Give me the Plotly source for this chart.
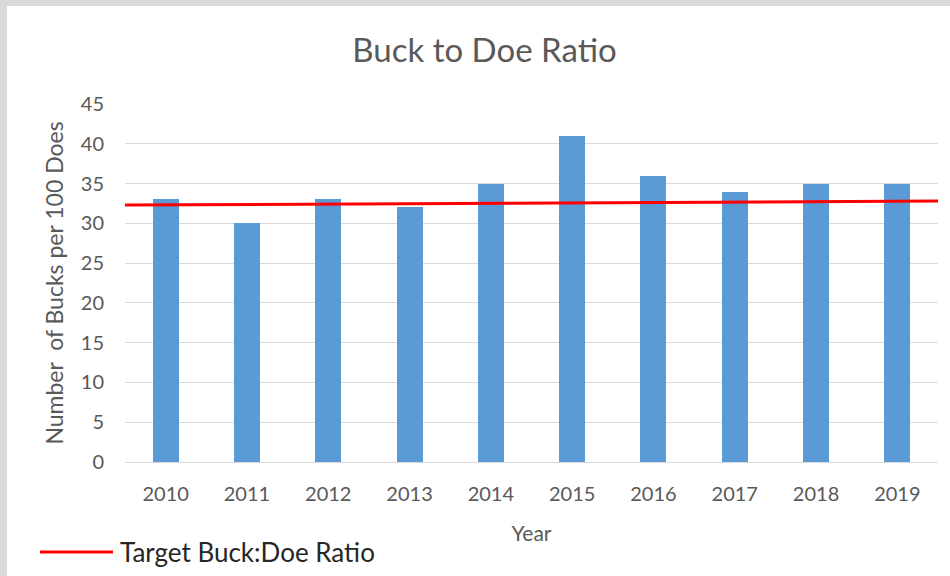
import plotly.graph_objects as go

years = [2010, 2011, 2012, 2013, 2014, 2015, 2016, 2017, 2018, 2019]
bucks_per_100_does = [33, 30, 33, 32, 35, 41, 36, 34, 35, 35]
target_x = [2009.5, 2019.5]
target_ratio = [32.3, 32.8]

W, H = 950, 576
L, R, T, B = 125, 12, 104, 114
pw, ph = W - L - R, H - T - B

def px(x):
    return (x - L) / pw

def py(y):
    return (H - B - y) / ph

FONT = "Lato"
GREY = "#595959"

fig = go.Figure()
fig.add_trace(go.Bar(
    x=years, y=bucks_per_100_does, width=0.32,
    marker=dict(color="#5B9BD5", line=dict(width=0)),
    name="Buck:Doe Ratio", showlegend=False,
))
fig.add_trace(go.Scatter(
    x=target_x, y=target_ratio, mode="lines",
    line=dict(color="#FF0000", width=3),
    name="Target Buck:Doe Ratio", showlegend=False, cliponaxis=False,
))

fig.update_layout(
    width=W, height=H,
    margin=dict(l=L, r=R, t=T, b=B),
    paper_bgcolor="white", plot_bgcolor="white",
    font=dict(family=FONT, color=GREY, size=20),
    title=dict(text="Buck to Doe Ratio", x=0.51, xref="container", xanchor="center",
               y=1 - 50 / H, yref="container", yanchor="middle",
               font=dict(size=33, color=GREY, family=FONT)),
    bargap=0,
    showlegend=False,
)
fig.update_xaxes(
    range=[2009.5, 2019.5], tickvals=years, ticktext=[str(y) for y in years],
    showgrid=False, zeroline=False, showline=True, linecolor="#D9D9D9", linewidth=1,
    ticks="", ticklabelstandoff=14, tickfont=dict(size=20, color=GREY),
    title=dict(text="Year", standoff=22, font=dict(size=21, color=GREY)),
    fixedrange=True,
)
fig.update_yaxes(
    range=[0, 45], dtick=5, showgrid=True, gridcolor="#D9D9D9", gridwidth=1,
    zeroline=False, showline=False, ticks="", ticklabelstandoff=20,
    tickfont=dict(size=20, color=GREY),
    title=dict(text="Number  of Bucks per 100 Does", standoff=10, font=dict(size=23, color=GREY)),
    fixedrange=True,
)

# outer frame strips (top and left)
fig.add_shape(type="rect", xref="paper", yref="paper", x0=px(0), x1=px(W), y0=py(6), y1=py(0),
              fillcolor="#D9D9D9", line=dict(width=0), layer="below")
fig.add_shape(type="rect", xref="paper", yref="paper", x0=px(0), x1=px(7), y0=py(H), y1=py(0),
              fillcolor="#D9D9D9", line=dict(width=0), layer="below")

# legend key
fig.add_shape(type="line", xref="paper", yref="paper", x0=px(40), x1=px(113), y0=py(552), y1=py(552),
              line=dict(color="#FF0000", width=3))
fig.add_annotation(text="Target Buck:Doe Ratio", xref="paper", yref="paper", x=px(118), y=py(552),
                   xanchor="left", yanchor="middle", showarrow=False,
                   font=dict(size=26, color="#262626", family=FONT))

fig.write_html("out.html", config={"displayModeBar": False},
               post_script="document.body.style.margin='0';")
